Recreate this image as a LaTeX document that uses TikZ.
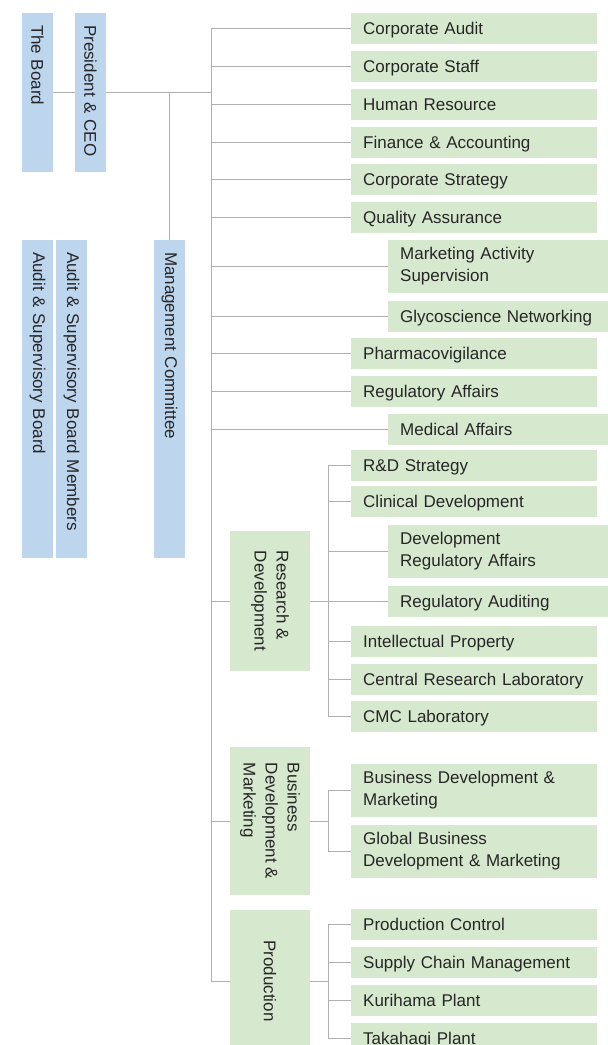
\documentclass[tikz,border=0pt]{standalone}
\usepackage{fontspec}
\setmainfont{Liberation Sans}

\definecolor{boardblue}{RGB}{189,214,238}
\definecolor{deptgreen}{RGB}{214,233,206}
\definecolor{linkgray}{RGB}{176,176,176}
\newcommand{\deptfont}{\fontsize{17}{22}\selectfont}

\tikzset{
    link/.style={draw=linkgray, line width=1pt},
    exec/.style={fill=boardblue, rotate=-90, minimum height=31pt, inner ysep=0pt,
                 inner xsep=12pt, align=left, text=black!85, font=\deptfont},
    division/.style={fill=deptgreen, rotate=-90, minimum height=80pt,
                     align=left, text=black!85, font=\deptfont},
    dept/.style={fill=deptgreen, anchor=west, minimum height=31pt, inner ysep=0pt,
                 inner xsep=12pt, text width=222pt, text depth=0pt, align=left,
                 text=black!85, font=\deptfont},
    subdept/.style={dept, text width=196pt},
    tall/.style={minimum height=53pt, text depth={}}
}

\begin{document}
\begin{tikzpicture}[x=1pt, y=1pt]
            \useasboundingbox (0,0) rectangle (608,-1045);
            \clip (0,0) rectangle (608,-1045);

            % board and top management (vertical bars)
            \node[exec, text width=135pt] (board) at (37.5,-92.5) {The Board};
            \node[exec, text width=135pt] (ceo) at (90.5,-92.5) {President \& CEO};
            \node[exec, text width=294pt] (asb) at (37.5,-399) {Audit \& Supervisory Board};
            \node[exec, text width=294pt] (asbm) at (71.5,-399) {Audit \& Supervisory Board Members};
            \node[exec, text width=294pt] (mc) at (169.5,-399) {Management Committee};

            % divisions
            \node[division, minimum width=140pt] (rnd) at (270,-601) {Research \&\\Development};
            \node[division, minimum width=148pt] (bizdev) at (270,-821) {Business\\Development \&\\Marketing};
            \node[division, minimum width=142pt] (prod) at (270,-981) {Production};

            % departments under the CEO
            \node[dept] (caudit) at (351,-28.5) {Corporate Audit};
            \node[dept] (cstaff) at (351,-66.5) {Corporate Staff};
            \node[dept] (hr) at (351,-104.5) {Human Resource};
            \node[dept] (finance) at (351,-142.5) {Finance \& Accounting};
            \node[dept] (strategy) at (351,-179.5) {Corporate Strategy};
            \node[dept] (qa) at (351,-217.5) {Quality Assurance};
            \node[subdept, tall] (mas) at (388,-266.5) {Marketing Activity\\Supervision};
            \node[subdept] (glyco) at (388,-316) {Glycoscience Networking};
            \node[dept] (pv) at (351,-353) {Pharmacovigilance};
            \node[dept] (ra) at (351,-391.5) {Regulatory Affairs};
            \node[subdept] (medical) at (388,-429) {Medical Affairs};

            % research & development
            \node[dept] (rdstrat) at (351,-465.5) {R\&D Strategy};
            \node[dept] (clinical) at (351,-501.5) {Clinical Development};
            \node[subdept, tall] (devra) at (388,-551.5) {Development\\Regulatory Affairs};
            \node[subdept] (regaudit) at (388,-601.5) {Regulatory Auditing};
            \node[dept] (ip) at (351,-641.5) {Intellectual Property};
            \node[dept] (crl) at (351,-679.5) {Central Research Laboratory};
            \node[dept] (cmc) at (351,-716.5) {CMC Laboratory};

            % business development & marketing
            \node[dept, tall] (bdm) at (351,-790.5) {Business Development \&\\Marketing};
            \node[dept, tall] (gbdm) at (351,-851.5) {Global Business\\Development \& Marketing};

            % production
            \node[dept] (pctrl) at (351,-924.5) {Production Control};
            \node[dept] (scm) at (351,-962.5) {Supply Chain Management};
            \node[dept] (kurihama) at (351,-1000.5) {Kurihama Plant};
            \node[dept] (takahagi) at (351,-1038.5) {Takahagi Plant};

            % connectors
            \coordinate (spine) at (211,0);
            \coordinate (subspine) at (328,0);
            \draw[link] (board.north) -- (ceo.south);
            \draw[link] (ceo.north) -- (ceo.north -| spine);
            \draw[link] (mc.west) -- (mc.west |- ceo.north);
            \draw[link] (caudit.west -| spine) -- (prod.south -| spine);
            \foreach \d in {caudit,cstaff,hr,finance,strategy,qa,mas,glyco,pv,ra,medical}
                \draw[link] (\d.west -| spine) -- (\d.west);
            \foreach \g in {rnd,bizdev,prod} {
                \draw[link] (\g.south -| spine) -- (\g.south);
                \draw[link] (\g.north) -- (\g.north -| subspine);
            }
            \draw[link] (rdstrat.west -| subspine) -- (cmc.west -| subspine);
            \draw[link] (bdm.west -| subspine) -- (gbdm.west -| subspine);
            \draw[link] (pctrl.west -| subspine) -- (takahagi.west -| subspine);
            \foreach \d in {rdstrat,clinical,devra,regaudit,ip,crl,cmc,bdm,gbdm,pctrl,scm,kurihama,takahagi}
                \draw[link] (\d.west -| subspine) -- (\d.west);
        \end{tikzpicture}
\end{document}
